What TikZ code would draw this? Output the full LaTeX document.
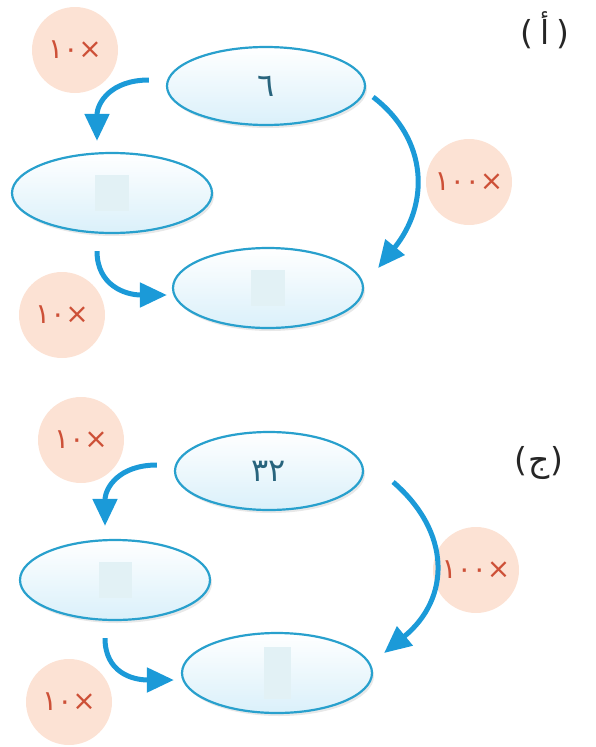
\documentclass[tikz,border=0pt]{standalone}
\usepackage{fontspec}
\newfontfamily\arabicfont[Script=Arabic]{DejaVu Sans}
\newfontfamily\plainfont{DejaVu Sans}
\usetikzlibrary{arrows.meta,shapes.geometric,shadows,calc}
\definecolor{arrblue}{RGB}{27,154,216}
\definecolor{ellborder}{RGB}{40,160,205}
\definecolor{ellfill}{RGB}{218,240,250}
\definecolor{peach}{RGB}{252,226,212}
\definecolor{numred}{RGB}{205,80,55}
\definecolor{numteal}{RGB}{40,100,125}
\definecolor{phfill}{RGB}{226,241,245}
\newcommand{\tms}{{\plainfont ×}}
\tikzset{
 oval/.style={ellipse, draw=ellborder, line width=2.2pt, top color=white, bottom color=ellfill,
   inner sep=0pt, drop shadow={opacity=0.18, shadow xshift=2pt, shadow yshift=-3pt},
   font=\arabicfont\fontsize{32}{32}\selectfont, text=numteal},
 badge/.style={circle, fill=peach, inner sep=0pt, minimum size=86pt,
   font=\fontsize{28}{28}\selectfont, text=numred},
 holder/.style={rectangle, fill=phfill, inner sep=0pt},
 arr/.style={draw=arrblue, line width=5pt, -{Triangle[length=27pt,width=24pt]}},
 partlabel/.style={font=\plainfont\fontsize{33}{33}\selectfont, text=black!85}
}
\begin{document}
\begin{tikzpicture}[x=1pt,y=-1pt]
\useasboundingbox (0,0) rectangle (595,747);
% ---------- part a ----------
\node[badge] (c1a) at (75,50) {{\arabicfont ١٠}\tms};
\node[badge] (c1b) at (469,182) {{\arabicfont ١٠٠}\tms};
\node[badge] (c1c) at (62,315) {{\arabicfont ١٠}\tms};
\node[partlabel] (la) at (545,30) {(\hspace{7pt}{\arabicfont أ}\hspace{7pt})};
\node[oval, minimum width=198pt, minimum height=78pt] (T1) at (266,86) {٦};
\node[oval, minimum width=200pt, minimum height=80pt] (L1) at (112,193) {};
\node[oval, minimum width=190pt, minimum height=80pt] (B1) at (268,288) {};
\node[holder, minimum width=34pt, minimum height=36pt] (h1l) at (L1.center) {};
\node[holder, minimum width=34pt, minimum height=36pt] (h1b) at (B1.center) {};
\draw[arr] ($(T1.west)+(-17,-6)$) .. controls +(-38,0) and +(0,-38) .. ($(L1.north)+(-15,-11)$);
\draw[arr] ($(T1.east)+(7,11)$) .. controls +(56,43) and +(51,-63) .. ($(B1.east)+(14,-20)$);
\draw[arr] ($(L1.south)+(-15,17)$) .. controls +(0,34) and +(-42,0) .. ($(B1.west)+(-5,7)$);
% ---------- part j ----------
\node[badge] (c2a) at (81,440) {{\arabicfont ١٠}\tms};
\node[badge] (c2b) at (476,570) {{\arabicfont ١٠٠}\tms};
\node[badge] (c2c) at (69,702) {{\arabicfont ١٠}\tms};
\node[partlabel] (lj) at (539,463) {(\hspace{1pt}{\arabicfont ج}\hspace{1pt})};
\node[oval, minimum width=188pt, minimum height=78pt] (T2) at (269,471) {٣٢};
\node[oval, minimum width=190pt, minimum height=80pt] (L2) at (115,580) {};
\node[oval, minimum width=190pt, minimum height=80pt] (B2) at (277,673) {};
\node[holder, minimum width=33pt, minimum height=36pt] (h2l) at (L2.center) {};
\node[holder, minimum width=27pt, minimum height=52pt] (h2b) at (B2.center) {};
\draw[arr] ($(T2.west)+(-17,-6)$) .. controls +(-38,0) and +(0,-38) .. ($(L2.north)+(-10,-13)$);
\draw[arr] ($(T2.east)+(29,11)$) .. controls +(58,50) and +(67,-55) .. ($(B2.east)+(11,-20)$);
\draw[arr] ($(L2.south)+(-10,17)$) .. controls +(0,34) and +(-42,0) .. ($(B2.west)+(-7,7)$);
\end{tikzpicture}
\end{document}
